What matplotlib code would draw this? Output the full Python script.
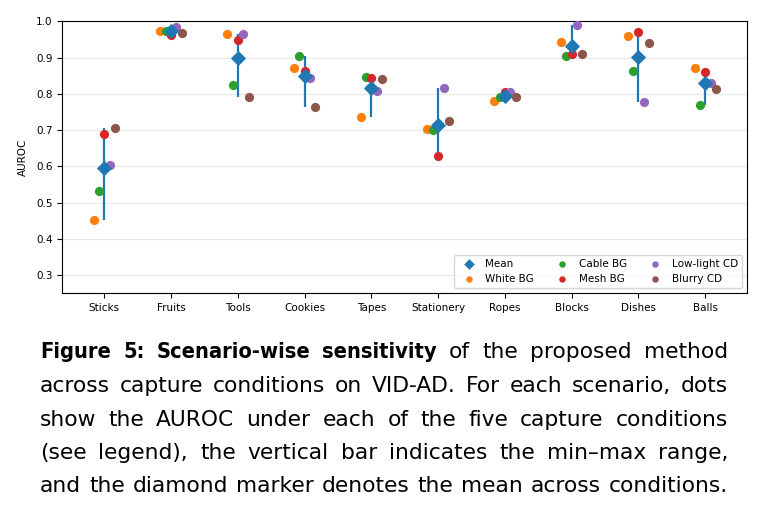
import numpy as np
import matplotlib
matplotlib.use("Agg")
import matplotlib.pyplot as plt
from matplotlib.font_manager import FontProperties

scenarios = ["Sticks", "Fruits", "Tools", "Cookies", "Tapes", "Stationery",
             "Ropes", "Blocks", "Dishes", "Balls"]
conditions = ["White BG", "Cable BG", "Mesh BG", "Low-light CD", "Blurry CD"]
white_bg   = [0.452, 0.974, 0.964, 0.872, 0.736, 0.702, 0.779, 0.942, 0.959, 0.870]
cable_bg   = [0.531, 0.974, 0.824, 0.904, 0.847, 0.700, 0.790, 0.903, 0.862, 0.770]
mesh_bg    = [0.689, 0.963, 0.948, 0.862, 0.843, 0.628, 0.804, 0.909, 0.971, 0.861]
lowlight_cd = [0.605, 0.983, 0.965, 0.843, 0.808, 0.815, 0.805, 0.991, 0.777, 0.831]
blurry_cd  = [0.706, 0.967, 0.791, 0.764, 0.841, 0.725, 0.790, 0.909, 0.939, 0.814]
yticks = [0.3, 0.4, 0.5, 0.6, 0.7, 0.8, 0.9, 1.0]

caption_lines = [
    [("Figure 5: Scenario-wise sensitivity", "bold"), ("of the proposed method", "normal")],
    [("across capture conditions on VID-AD. For each scenario, dots", "normal")],
    [("show the AUROC under each of the five capture conditions", "normal")],
    [("(see legend), the vertical bar indicates the min\u2013max range,", "normal")],
    [("and the diamond marker denotes the mean across conditions.", "normal")],
]

series = [white_bg, cable_bg, mesh_bg, lowlight_cd, blurry_cd]
colors = ["#ff7f0e", "#2ca02c", "#d62728", "#9467bd", "#8c564b"]
offsets = [-0.16, -0.08, 0.0, 0.08, 0.16]

W, H = 766, 512
fig = plt.figure(figsize=(W / 100, H / 100), dpi=100)
ax = fig.add_axes([62.3 / W, 1 - 293.3 / H, (747.3 - 62.3) / W, (293.3 - 21.3) / H])

x = np.arange(len(scenarios))
vals = np.array(series)
mins = vals.min(axis=0)
maxs = vals.max(axis=0)
means = vals.mean(axis=0)

ax.vlines(x, mins, maxs, color="#1f77b4", lw=1.6, zorder=2)
for s, c, off, lab in zip(series, colors, offsets, conditions):
    ax.scatter(x + off, s, s=44, color=c, label=lab, zorder=3, linewidths=0)
ax.scatter(x, means, marker="D", s=60, color="#1f77b4", label="Mean", zorder=4,
           linewidths=0)

ax.set_xticks(x)
ax.set_xticklabels(scenarios, fontsize=7.5)
ax.set_yticks(yticks)
ax.set_yticklabels([f"{t:.1f}" for t in yticks], fontsize=7.5)
ax.set_ylim(0.25, 1.0)
ax.set_xlim(-0.63, 9.63)
ax.set_ylabel("AUROC", fontsize=7.5, labelpad=6)
ax.yaxis.grid(True, color="#e8e8e8", lw=0.8, zorder=0)
ax.set_axisbelow(True)

handles, labels = ax.get_legend_handles_labels()
order = [5, 0, 1, 2, 3, 4]
ax.legend([handles[i] for i in order], [labels[i] for i in order], ncol=3,
          loc="lower right", fontsize=7.5, markerscale=0.7, framealpha=0.8,
          columnspacing=1.7, handletextpad=0.6)

# caption, justified
x0, x1 = 40, 728
avail = x1 - x0
baselines = [358, 392, 425.5, 459, 492.5]
renderer = fig.canvas.get_renderer()

def props(weight, fs):
    if weight == "bold":
        return FontProperties(family="DejaVu Sans", weight="bold",
                              stretch="condensed", size=fs)
    return FontProperties(family="DejaVu Sans", weight="normal", size=fs)

def word_items(line):
    items = []
    for chunk, weight in line:
        for w in chunk.split(" "):
            items.append((w, weight))
    return items

def measure(w, fp):
    t = fig.text(0, 0, w, fontproperties=fp)
    bb = t.get_window_extent(renderer=renderer)
    t.remove()
    return bb.width

# fit regular size to last line (which nearly fills naturally)
fs0 = 15.0
sp0 = measure("a b", props("normal", fs0)) - measure("ab", props("normal", fs0))
last = word_items(caption_lines[-1])
nat = sum(measure(w, props(wt, fs0)) for w, wt in last) + sp0 * (len(last) - 1)
fs = fs0 * (avail * 0.985) / nat
space = measure("a b", props("normal", fs)) - measure("ab", props("normal", fs))

sizes = []
for line in caption_lines:
    items = word_items(line)
    fsb = fs
    while True:
        tot = sum(measure(w, props(wt, fsb if wt == "bold" else fs)) for w, wt in items)
        if tot + space * 1.1 * (len(items) - 1) <= avail or fsb < 8:
            break
        fsb *= 0.97
    sizes.append(fsb)

for line, by, fsb in zip(caption_lines, baselines, sizes):
    items = word_items(line)
    fps = [props(wt, fsb if wt == "bold" else fs) for w, wt in items]
    widths = [measure(w, fp) for (w, wt), fp in zip(items, fps)]
    gap = (avail - sum(widths)) / (len(items) - 1)
    cx = x0
    for (w, wt), fp, ww in zip(items, fps, widths):
        fig.text(cx / W, 1 - by / H, w, fontproperties=fp,
                 ha="left", va="baseline")
        cx += ww + gap

fig.savefig("out.png", dpi=100)
